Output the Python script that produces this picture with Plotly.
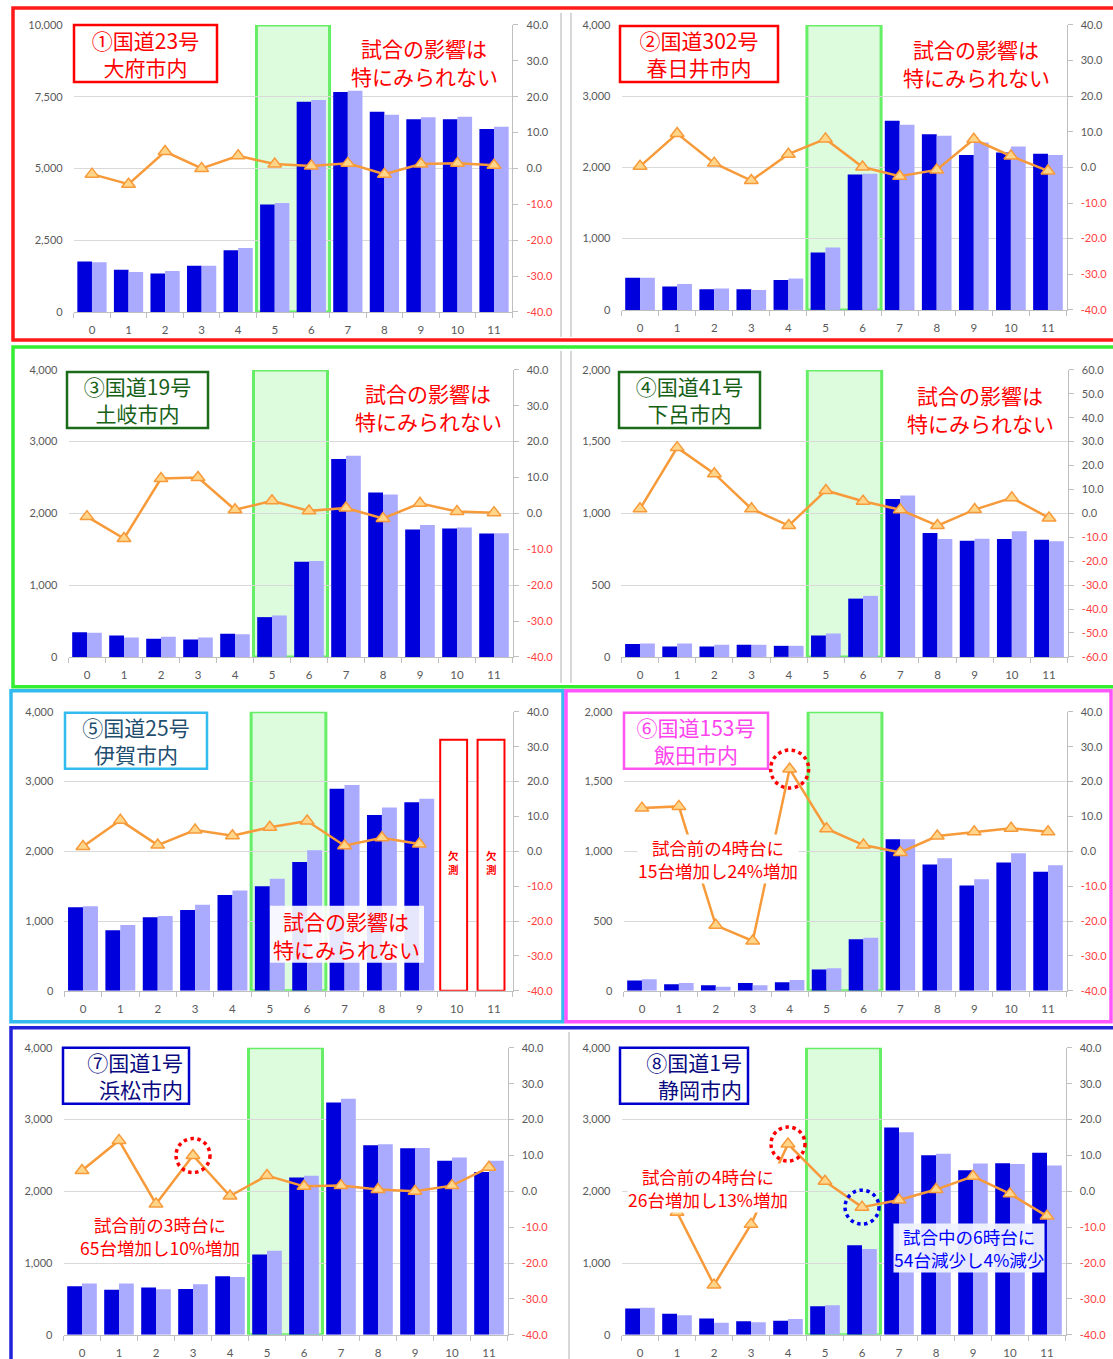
import plotly.graph_objects as go

W, H = 1113, 1359

hours = list(range(12))
hour_labels = [str(h) for h in hours]

# ① 国道23号 大府市内
p1_dark = [1760, 1470, 1335, 1610, 2145, 3745, 7320, 7660, 6975, 6710, 6710, 6375]
p1_light = [1730, 1390, 1425, 1610, 2225, 3790, 7380, 7705, 6870, 6780, 6800, 6455]
p1_pct = [-1.6, -4.4, 4.7, 0.0, 3.5, 1.2, 0.7, 1.4, -1.6, 1.2, 1.4, 0.9]
# ② 国道302号 春日井市内
p2_dark = [450, 330, 290, 290, 420, 805, 1900, 2655, 2465, 2175, 2210, 2190]
p2_light = [450, 365, 300, 280, 440, 875, 1910, 2600, 2445, 2350, 2295, 2175]
p2_pct = [0.3, 9.5, 1.2, -3.7, 3.7, 8.0, 0.1, -2.5, -0.7, 7.9, 3.2, -1.0]
# ③ 国道19号 土岐市内
p3_dark = [345, 298, 253, 242, 321, 554, 1327, 2757, 2291, 1774, 1788, 1718]
p3_light = [335, 270, 279, 270, 317, 577, 1336, 2803, 2263, 1839, 1802, 1723]
p3_pct = [-0.9, -7.0, 9.7, 10.0, 1.0, 3.5, 0.7, 1.5, -1.4, 2.8, 0.5, 0.2]
# ④ 国道41号 下呂市内
p4_dark = [89, 72, 72, 84, 77, 149, 406, 1101, 863, 810, 821, 817]
p4_light = [93, 93, 84, 84, 77, 163, 425, 1125, 821, 824, 875, 805]
p4_pct = [1.9, 27.5, 16.6, 1.9, -5.1, 9.6, 5.1, 1.5, -5.1, 1.6, 6.5, -1.9]
# ⑤ 国道25号 伊賀市内 (10,11時台 欠測)
p5_dark = [1199, 870, 1056, 1161, 1376, 1501, 1849, 2896, 2523, 2705, None, None]
p5_light = [1214, 946, 1075, 1233, 1438, 1606, 2017, 2953, 2628, 2753, None, None]
p5_pct = [1.4, 8.9, 1.8, 6.1, 4.5, 6.9, 8.7, 1.6, 3.9, 2.1, None, None]
# ⑥ 国道153号 飯田市内
p6_dark = [74, 48, 41, 57, 62, 153, 370, 1087, 906, 755, 920, 853]
p6_light = [84, 57, 29, 41, 77, 162, 380, 1087, 951, 800, 987, 901]
p6_pct = [12.4, 12.9, -21.2, -25.7, 23.6, 6.5, 1.8, -0.3, 4.4, 5.6, 6.6, 5.6]
# ⑦ 国道1号 浜松市内
p7_dark = [678, 627, 660, 640, 818, 1120, 2193, 3238, 2643, 2602, 2425, 2270]
p7_light = [715, 715, 636, 705, 808, 1171, 2216, 3289, 2657, 2606, 2471, 2425]
p7_pct = [5.8, 14.2, -3.5, 10.0, -1.3, 4.4, 1.4, 1.6, 0.5, 0.0, 1.6, 6.7]
# ⑧ 国道1号 静岡市内
p8_dark = [367, 293, 228, 190, 195, 400, 1250, 2890, 2504, 2295, 2393, 2537]
p8_light = [376, 274, 167, 177, 221, 413, 1196, 2825, 2523, 2388, 2383, 2360]
p8_pct = [None, -5.8, -26.1, -9.2, 13.2, 2.8, -4.4, -2.4, 0.5, 4.2, -0.7, -6.9]

titles = ["①国道23号<br>大府市内", "②国道302号<br>春日井市内", "③国道19号<br>土岐市内",
          "④国道41号<br>下呂市内", "⑤国道25号<br>伊賀市内", "⑥国道153号<br>飯田市内",
          "⑦国道1号<br>浜松市内", "⑧国道1号<br>静岡市内"]
no_effect_lines = ["試合の影響は", "特にみられない"]

DARK = "#0000DD"
LIGHT = "#AAAAFF"
ORANGE = "#F79A3A"
GRID = "#D9D9D9"
AXIS = "#BFBFBF"
TICK = "#595959"
NEG = "#FF4040"
JP = "Noto Sans CJK JP"
NUMF = "Lato"

# layout geometry (pixels)
panels = [
    dict(dark=p1_dark, light=p1_light, pct=p1_pct, ymax=10000, dt=2500, pr=40, x=(73.7, 512.3), y=(24, 311),
         tc="#FF0000", bc="#FF0000", box=(74, 217, 24, 81), al="center"),
    dict(dark=p2_dark, light=p2_light, pct=p2_pct, ymax=4000, dt=1000, pr=40, x=(621.5, 1066.5), y=(24, 309),
         tc="#FF0000", bc="#FF0000", box=(620, 778, 25, 81), al="center"),
    dict(dark=p3_dark, light=p3_light, pct=p3_pct, ymax=4000, dt=1000, pr=40, x=(68.5, 512.5), y=(369, 656),
         tc="#176117", bc="#1B6B1B", box=(67, 208, 371, 427), al="center"),
    dict(dark=p4_dark, light=p4_light, pct=p4_pct, ymax=2000, dt=500, pr=60, x=(621.4, 1067.6), y=(369, 656),
         tc="#176117", bc="#1B6B1B", box=(619, 760, 371, 427), al="center"),
    dict(dark=p5_dark, light=p5_light, pct=p5_pct, ymax=4000, dt=1000, pr=40, x=(64.3, 512.7), y=(711, 990),
         tc="#1F4E6E", bc="#33BBEE", box=(65, 207, 712, 768), al="center"),
    dict(dark=p6_dark, light=p6_light, pct=p6_pct, ymax=2000, dt=500, pr=40, x=(623.5, 1066.5), y=(711, 990),
         tc="#FF44EE", bc="#FF55EE", box=(624, 768, 712, 768), al="center"),
    dict(dark=p7_dark, light=p7_light, pct=p7_pct, ymax=4000, dt=1000, pr=40, x=(63.5, 507.5), y=(1047, 1334),
         tc="#0A0A80", bc="#0000CC", box=(63, 189, 1047, 1103), al="right"),
    dict(dark=p8_dark, light=p8_light, pct=p8_pct, ymax=4000, dt=1000, pr=40, x=(621.5, 1065.5), y=(1047, 1334),
         tc="#0A0A80", bc="#0000CC", box=(620, 748, 1047, 1103), al="right"),
]


def nm(prefix, k):
    return prefix if k == 1 else f"{prefix}{k}"


def pxx(x):
    return x / W


# vertical mapping from target pixel row to paper fraction
# (compensates the small vertical offset/scale seen in the rendered page)
VOFF, VSC = 6.1, 0.989


def pxy(y):
    return 1 - ((y - VOFF) / VSC) / H


fig = go.Figure()
layout = {}
shapes = []
annos = []

for i, p in enumerate(panels):
    n = i + 1
    xa = nm("x", n)
    ya = nm("y", 2 * n - 1)
    yb = nm("y", 2 * n)
    fig.add_trace(go.Bar(x=hours, y=p["dark"], marker=dict(color=DARK, line_width=0),
                         xaxis=xa, yaxis=ya, showlegend=False))
    fig.add_trace(go.Bar(x=hours, y=p["light"], marker=dict(color=LIGHT, line_width=0),
                         xaxis=xa, yaxis=ya, showlegend=False))
    fig.add_trace(go.Scatter(x=hours, y=p["pct"], mode="lines+markers", xaxis=xa, yaxis=yb,
                             line=dict(color=ORANGE, width=2.5), connectgaps=False,
                             marker=dict(symbol="triangle-up", size=12, color="#FFD58A",
                                         line=dict(color=ORANGE, width=1.5)),
                             showlegend=False))
    xd = [pxx(p["x"][0]), pxx(p["x"][1])]
    yd = [pxy(p["y"][1]), pxy(p["y"][0])]
    layout[nm("xaxis", n)] = dict(
        domain=xd, anchor=ya, range=[-0.5, 11.5], tickvals=hours, ticktext=hour_labels,
        ticks="", showline=True, linecolor=AXIS, linewidth=1, showgrid=False, zeroline=False,
        ticklabelstandoff=7,
        tickfont=dict(family=NUMF, size=11.5, color=TICK),
        minor=dict(tickvals=[h - 0.5 for h in range(13)], ticks="outside", ticklen=5,
                   tickcolor=AXIS, showgrid=False))
    layout[nm("yaxis", 2 * n - 1)] = dict(
        domain=yd, anchor=xa, range=[0, p["ymax"]], dtick=p["dt"], tickformat=",",
        showgrid=True, gridcolor=GRID, gridwidth=1, zeroline=False, showline=False,
        ticks="", ticklabelstandoff=10, tickfont=dict(family=NUMF, size=11, color=TICK))
    pr = p["pr"]
    rv = list(range(-pr, pr + 1, 10))
    rt = [(f'<span style="color:{NEG}">{v:.1f}</span>' if v < 0 else f"{v:.1f}") for v in rv]
    layout[nm("yaxis", 2 * n)] = dict(
        domain=yd, anchor=xa, overlaying=ya, side="right", range=[-pr, pr],
        tickvals=rv, ticktext=rt, showgrid=False, zeroline=False, showline=True,
        linecolor=AXIS, ticks="outside", ticklen=5, tickcolor=AXIS, ticklabelstandoff=6,
        tickfont=dict(family=NUMF, size=11, color=TICK))

    # 試合時間帯 (5-6時台)
    shapes.append(dict(type="rect", xref=xa, yref=ya, x0=4.5, x1=6.5, y0=0, y1=p["ymax"],
                       fillcolor="#DDFBDD", line=dict(color="#66EE66", width=3), layer="below"))

    # title box (frame drawn as a shape, text as annotation)
    bx0, bx1, by0, by1 = p["box"]
    shapes.append(dict(type="rect", xref="paper", yref="paper", x0=pxx(bx0), x1=pxx(bx1),
                       y0=pxy(by1), y1=pxy(by0), fillcolor="white",
                       line=dict(color=p["bc"], width=2.5), layer="above"))
    annos.append(dict(xref="paper", yref="paper", x=pxx((bx0 + bx1) / 2), y=pxy((by0 + by1) / 2),
                      text=titles[i], showarrow=False, align=p["al"], width=bx1 - bx0 - 12,
                      font=dict(family=JP, size=21, color=p["tc"]),
                      xanchor="center", yanchor="middle"))

# 試合の影響は特にみられない (two lines, positioned separately)
shapes.append(dict(type="rect", xref="paper", yref="paper", x0=pxx(270), x1=pxx(424),
                   y0=pxy(962), y1=pxy(905), fillcolor="rgba(255,255,255,0.9)",
                   line=dict(width=0), layer="above"))
for (cx, cy1, cy2) in [(424, 47, 75), (976, 48, 76), (428, 392, 420), (980, 394, 422), (346, 920, 948)]:
    for txt, cy in zip(no_effect_lines, (cy1, cy2)):
        annos.append(dict(xref="paper", yref="paper", x=pxx(cx), y=pxy(cy), text=txt, showarrow=False,
                          font=dict(family=JP, size=21, color="#FF0000"),
                          xanchor="center", yanchor="middle"))

# 欠測 boxes (panel 5)
for h in hours:
    if p5_dark[h] is None:
        shapes.append(dict(type="rect", xref="x5", yref="y9", x0=h - 0.44, x1=h + 0.28, y0=0, y1=3600,
                           fillcolor="white", line=dict(color="#FF0000", width=2), layer="above"))
        annos.append(dict(xref="x5", yref="y9", x=h - 0.08, y=1835, text="<b>欠<br>測</b>",
                          showarrow=False, xanchor="center", yanchor="middle",
                          font=dict(family=JP, size=10.5, color="#FF0000")))

# notes
NOTE = 17.5
for (cx, cy, txt, col, bg) in [
        (718, 858, "試合前の4時台に<br>15台増加し24%増加", "#FF0000", "white"),
        (160, 1235, "試合前の3時台に<br>65台増加し10%増加", "#FF0000", "white"),
        (708, 1187, "試合前の4時台に<br>26台増加し13%増加", "#FF0000", "white"),
        (969, 1247, "試合中の6時台に<br>54台減少し4%減少", "#0000FF", "rgba(240,243,255,0.95)")]:
    annos.append(dict(xref="paper", yref="paper", x=pxx(cx), y=pxy(cy), text=txt, showarrow=False,
                      xanchor="center", yanchor="middle",
                      font=dict(family=JP, size=NOTE, color=col), bgcolor=bg, borderpad=0))

# dotted circles around highlighted points
for (xa, yb, h, pct, col, r) in [("x6", "y12", 4, p6_pct, "#FF0000", 19),
                                 ("x7", "y14", 3, p7_pct, "#FF0000", 17),
                                 ("x8", "y16", 4, p8_pct, "#FF0000", 17),
                                 ("x8", "y16", 6, p8_pct, "#0000EE", 17)]:
    shapes.append(dict(type="circle", xref=xa, yref=yb, xsizemode="pixel", ysizemode="pixel",
                       xanchor=h, yanchor=pct[h], x0=-r, x1=r, y0=-r, y1=r,
                       line=dict(color=col, width=3.5, dash="dot"), layer="above"))

# frames around panel groups
for (x0, x1, y0, y1, col) in [(13, 1116, 7, 339, "#FF1A1A"), (13, 1116, 346, 686, "#33EE33"),
                              (11, 563, 690, 1021, "#33BBEE"), (566, 1111, 690, 1021, "#FF55FF"),
                              (11, 1116, 1027, 1370, "#2222DD")]:
    shapes.append(dict(type="rect", xref="paper", yref="paper", x0=pxx(x0), x1=pxx(x1),
                       y0=pxy(y1), y1=pxy(y0), line=dict(color=col, width=3.5), layer="above"))

# chart-area divider lines
for (xx, y0, y1) in [(561, 12, 336), (571, 12, 336), (561, 350, 682), (571, 350, 682), (569, 1031, 1359)]:
    shapes.append(dict(type="line", xref="paper", yref="paper", x0=pxx(xx), x1=pxx(xx),
                       y0=pxy(y1), y1=pxy(y0), line=dict(color="#B0B0B0", width=1), layer="above"))

fig.update_layout(
    width=W, height=H, margin=dict(l=0, r=0, t=0, b=0),
    paper_bgcolor="white", plot_bgcolor="rgba(0,0,0,0)",
    barmode="group", bargap=0.2, bargroupgap=0.0,
    font=dict(family=JP, size=12, color=TICK),
    shapes=shapes, annotations=annos, **layout)

fig.write_html("out.html", config={"displayModeBar": False},
               post_script="document.body.style.margin='0';document.body.style.overflow='hidden';")
